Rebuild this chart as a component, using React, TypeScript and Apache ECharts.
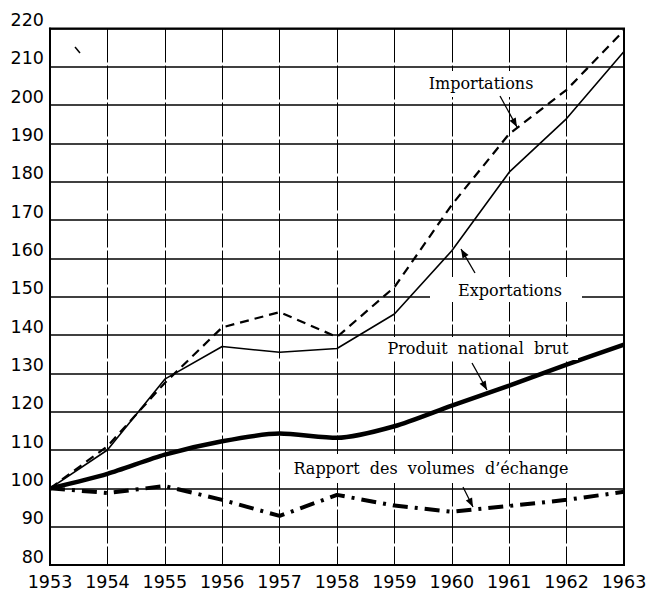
import React, { useEffect, useRef } from "react";
import * as echarts from "echarts";

const years = [1953, 1954, 1955, 1956, 1957, 1958, 1959, 1960, 1961, 1962, 1963];
const importations = [100, 111, 127.5, 142, 146, 139.5, 152.5, 174, 192.5, 204, 219.5];
const exportations = [100, 110, 128.5, 137, 135.5, 136.5, 145.5, 162, 182.5, 196.5, 214];
const produitNational = [100, 103.8, 108.8, 112.3, 114.3, 113.2, 116.2, 121.6, 126.8, 132.3, 137.5];
const rapportVolumes = [100, 98.8, 100.6, 97, 92.8, 98.3, 95.5, 93.9, 95.4, 97, 99.1];

const yMin = 80;
const yMax = 220;
const yStep = 10;

const annotations = [
  { text: "Importations", x: 481, y: 83, box: [420, 71, 125, 26], from: [500, 96], to: [517, 127] },
  { text: "Exportations", x: 510, y: 290, box: [430, 277, 152, 25], from: [475, 273], to: [461, 249] },
  { text: "Produit  national  brut", x: 478, y: 348, box: [380, 337, 198, 23], from: [472, 363], to: [487, 390] },
  { text: "Rapport  des  volumes  d\u2019\u00e9change", x: 431, y: 468, box: [286, 454, 290, 29], from: [463, 487], to: [473, 507] },
];

function arrowHead(from: number[], to: number[], len = 9, half = 3.5) {
  const dx = to[0] - from[0];
  const dy = to[1] - from[1];
  const d = Math.sqrt(dx * dx + dy * dy);
  const ux = dx / d;
  const uy = dy / d;
  const bx = to[0] - ux * len;
  const by = to[1] - uy * len;
  return [
    [to[0], to[1]],
    [bx - uy * half, by + ux * half],
    [bx + uy * half, by - ux * half],
  ];
}

export default function App() {
  const ref = useRef<HTMLDivElement>(null);
  useEffect(() => {
    if (!ref.current) return;
    const chart = echarts.init(ref.current, undefined, { renderer: "svg" });
    const pairs = (vals: number[]) => years.map((y, i) => [y, vals[i]]);
    const graphics: any[] = [];
    annotations.forEach((a) => {
      graphics.push({
        type: "rect",
        z: 100,
        shape: { x: a.box[0], y: a.box[1], width: a.box[2], height: a.box[3] },
        style: { fill: "#fff" },
      });
      graphics.push({
        type: "text",
        z: 101,
        x: a.x,
        y: a.y,
        style: {
          text: a.text,
          fill: "#000",
          font: '16px "DejaVu Serif"',
          align: "center",
          verticalAlign: "middle",
        },
      });
      graphics.push({
        type: "line",
        z: 101,
        shape: { x1: a.from[0], y1: a.from[1], x2: a.to[0], y2: a.to[1] },
        style: { stroke: "#000", lineWidth: 1.3 },
      });
      graphics.push({
        type: "polygon",
        z: 101,
        shape: { points: arrowHead(a.from, a.to) },
        style: { fill: "#000" },
      });
    });
    graphics.push({
      type: "line",
      z: 101,
      shape: { x1: 75, y1: 47, x2: 80, y2: 53 },
      style: { stroke: "#000", lineWidth: 1.5 },
    });

    chart.setOption({
      animation: false,
      backgroundColor: "#fff",
      grid: {
        left: 50,
        right: 27,
        top: 28.5,
        bottom: 27,
        show: true,
        borderColor: "#000",
        borderWidth: 2,
        backgroundColor: "transparent",
      },
      xAxis: {
        type: "value",
        min: 1953,
        max: 1963,
        interval: 1,
        axisLine: { show: true, lineStyle: { color: "#000", width: 2 } },
        axisTick: { show: false },
        axisLabel: {
          color: "#000",
          fontFamily: "DejaVu Sans",
          fontSize: 17.5,
          margin: 8,
          formatter: (v: number) => String(v),
        },
        splitLine: { show: true, lineStyle: { color: "#000", width: 1, type: [34, 3] } },
      },
      yAxis: {
        type: "value",
        min: yMin,
        max: yMax,
        interval: yStep,
        axisLine: { show: true, lineStyle: { color: "#000", width: 2 } },
        axisTick: { show: false },
        axisLabel: {
          color: "#000",
          fontFamily: "DejaVu Sans",
          fontSize: 17.5,
          margin: 6,
          verticalAlign: "bottom",
          lineHeight: 17,
        },
        splitLine: { show: true, lineStyle: { color: "#000", width: 1.5 } },
      },
      graphic: graphics,
      series: [
        {
          name: "Importations",
          type: "line",
          data: pairs(importations),
          symbol: "none",
          lineStyle: { color: "#000", width: 2.2, type: [9, 6] },
        },
        {
          name: "Exportations",
          type: "line",
          data: pairs(exportations),
          symbol: "none",
          lineStyle: { color: "#000", width: 1.6 },
        },
        {
          name: "Produit national brut",
          type: "line",
          data: pairs(produitNational),
          symbol: "none",
          smooth: 0.25,
          lineStyle: { color: "#000", width: 4.5 },
        },
        {
          name: "Rapport des volumes d'échange",
          type: "line",
          data: pairs(rapportVolumes),
          symbol: "none",
          lineStyle: { color: "#000", width: 4, type: [15, 7, 3, 7] },
        },
      ],
    });
    return () => chart.dispose();
  }, []);
  return (
    <div
      ref={ref}
      style={{ position: "fixed", left: 0, top: 0, width: 651, height: 592, background: "#fff" }}
    />
  );
}
